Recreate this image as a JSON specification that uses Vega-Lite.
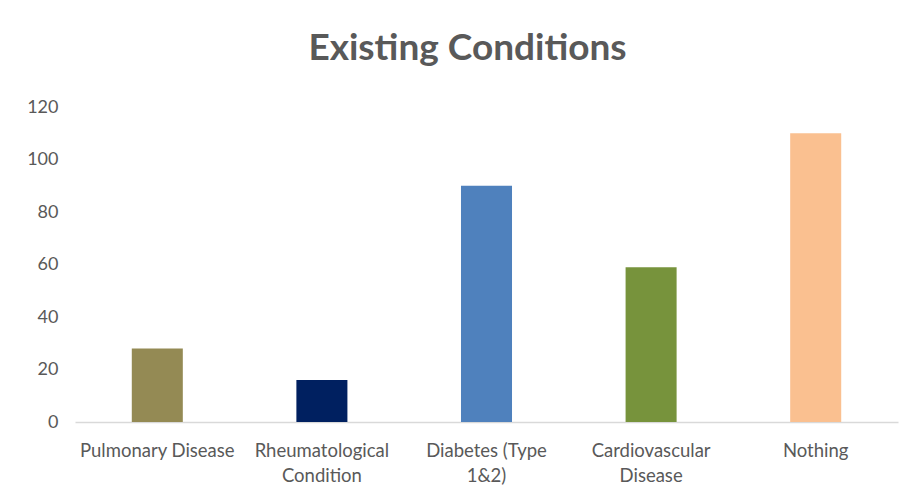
{
  "$schema": "https://vega.github.io/schema/vega-lite/v6.json",
  "autosize": "none",
  "width": 823,
  "height": 315,
  "padding": {"left": 75, "top": 107, "right": 14, "bottom": 75},
  "background": "white",
  "title": {
    "text": "Existing Conditions",
    "font": "Lato",
    "fontWeight": "bold",
    "fontSize": 37,
    "color": "#595959",
    "anchor": "middle",
    "frame": "group",
    "baseline": "alphabetic",
    "offset": 1,
    "dx": -19
  },
  "data": {
    "values": [
      {"condition": "Pulmonary Disease", "count": 28},
      {"condition": "Rheumatological Condition", "count": 16},
      {"condition": "Diabetes (Type 1&2)", "count": 90},
      {"condition": "Cardiovascular Disease", "count": 59},
      {"condition": "Nothing", "count": 110}
    ]
  },
  "mark": {"type": "bar"},
  "encoding": {
    "x": {
      "field": "condition",
      "type": "nominal",
      "sort": null,
      "title": null,
      "scale": {"paddingInner": 0.69, "paddingOuter": 0.345},
      "axis": {
        "labelAngle": 0,
        "labelFont": "Lato",
        "labelFontSize": 18.5,
        "labelColor": "#595959",
        "labelPadding": 19,
        "labelLineHeight": 25,
        "labelLimit": 0,
        "ticks": false,
        "domainColor": "#d9d9d9",
        "domainWidth": 1.5,
        "labelExpr": "datum.label == 'Rheumatological Condition' ? ['Rheumatological', 'Condition'] : datum.label == 'Diabetes (Type 1&2)' ? ['Diabetes (Type', '1&2)'] : datum.label == 'Cardiovascular Disease' ? ['Cardiovascular', 'Disease'] : datum.label"
      }
    },
    "y": {
      "field": "count",
      "type": "quantitative",
      "title": null,
      "scale": {"domain": [0, 120]},
      "axis": {
        "values": [0, 20, 40, 60, 80, 100, 120],
        "grid": false,
        "domain": false,
        "ticks": false,
        "labelFont": "Lato",
        "labelFontSize": 18,
        "labelColor": "#595959",
        "labelPadding": 17
      }
    },
    "color": {
      "field": "condition",
      "type": "nominal",
      "sort": null,
      "legend": null,
      "scale": {
        "domain": ["Pulmonary Disease", "Rheumatological Condition", "Diabetes (Type 1&2)", "Cardiovascular Disease", "Nothing"],
        "range": ["#948A54", "#002060", "#4F81BD", "#77933C", "#FAC090"]
      }
    }
  },
  "config": {"view": {"stroke": null}}
}
